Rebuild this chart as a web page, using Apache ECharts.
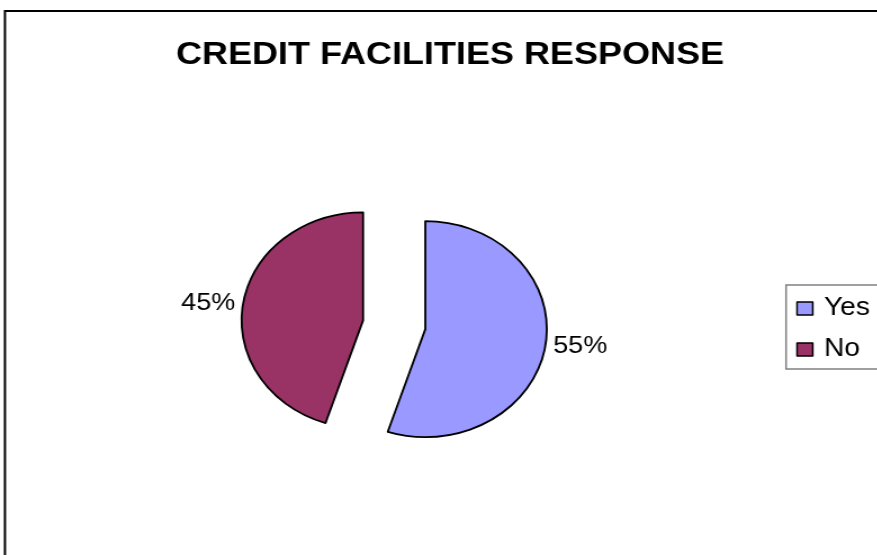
<!DOCTYPE html>
<html>
<head>
<meta charset="utf-8">
<script src="https://cdn.jsdelivr.net/npm/echarts@6/dist/echarts.min.js"></script>
<style>
  html, body { margin: 0; padding: 0; background: #fff; overflow: hidden; width: 877px; height: 555px; }
  /* the chart is laid out narrower and widened horizontally, giving the pie its oval shape */
  #chart { width: 800px; height: 555px; transform: scaleX(1.125); transform-origin: 0 0; }
</style>
</head>
<body>
<div id="chart"></div>
<script>
// Survey answers (percent of respondents)
const categories = ['Yes', 'No'];
const responseShares = [55, 45];
const sliceColors = ['#9999FF', '#993366'];
const chartTitle = 'CREDIT FACILITIES RESPONSE';

const FONT = '"Liberation Sans", Arial, sans-serif';

const chart = echarts.init(document.getElementById('chart'), null, { renderer: 'canvas' });

const pieData = categories.map((name, i) => ({
  name: name,
  value: responseShares[i],
  selected: true,
  itemStyle: { color: sliceColors[i] }
}));

chart.setOption({
  animation: false,
  backgroundColor: '#ffffff',
  title: {
    text: chartTitle,
    left: 'center',
    top: 39,
    padding: 0,
    textStyle: { fontFamily: FONT, fontSize: 32, fontWeight: 'bold', color: '#000' }
  },
  legend: {
    orient: 'vertical',
    left: 698.7,
    top: 285,
    data: categories,
    icon: 'rect',
    itemWidth: 14,
    itemHeight: 13,
    itemGap: 16,
    padding: [11, 20, 7, 9],
    borderColor: '#808080',
    borderWidth: 1.5,
    selectedMode: false,
    itemStyle: { borderColor: '#000', borderWidth: 1.5 },
    textStyle: { fontFamily: FONT, fontSize: 25, color: '#000', padding: [0, 0, 0, 5] }
  },
  graphic: [{
    type: 'rect',
    silent: true,
    shape: { x: 4.4, y: 11, width: 2000, height: 2000 },
    style: { fill: 'none', stroke: '#000', lineWidth: 2 }
  }],
  series: [{
    type: 'pie',
    center: [350.4, 324.75],
    radius: 108,
    startAngle: 90,
    clockwise: true,
    selectedMode: 'multiple',
    selectedOffset: 28,
    avoidLabelOverlap: false,
    emphasis: { disabled: true },
    itemStyle: { borderColor: '#000', borderWidth: 1.8 },
    label: {
      show: true,
      position: 'outside',
      formatter: '{c}%',
      fontFamily: FONT,
      fontSize: 24,
      color: '#000'
    },
    labelLine: { show: false, length: 2, length2: 0 },
    data: pieData
  }]
});
</script>
</body>
</html>
